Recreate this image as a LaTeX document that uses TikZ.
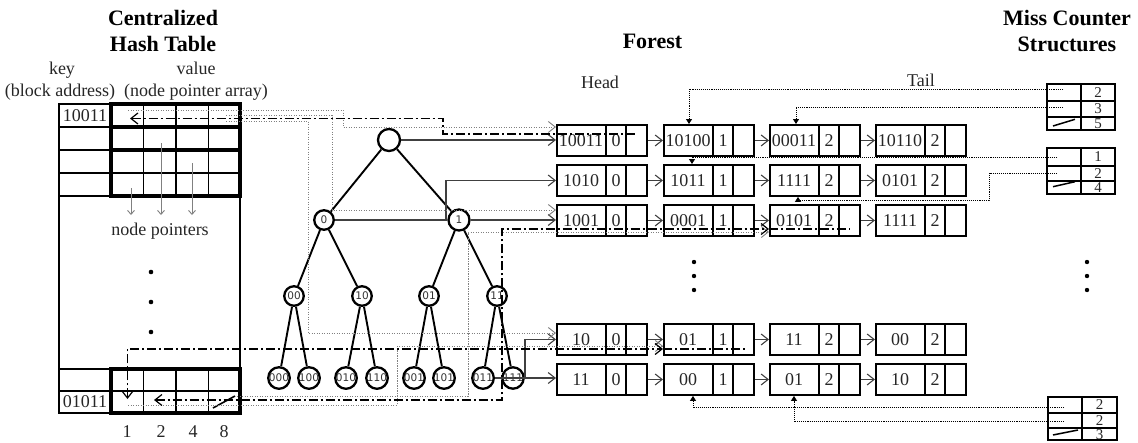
\documentclass[tikz,border=0pt]{standalone}
\usepackage{fontspec}
\setmainfont{Liberation Serif}
\newfontfamily\treefont{DejaVu Sans}
\usetikzlibrary{arrows.meta}
\tikzset{
  barb/.tip={Straight Barb[length=7pt,width=11pt]},
  sbarb/.tip={Straight Barb[length=4pt,width=7pt]},
  tri/.tip={Triangle[length=5pt,width=6pt]},
  every node/.style={font=\fontsize{18}{20}\selectfont, inner sep=0pt, text=black!85},
  title/.style={font=\fontsize{22}{26}\selectfont\bfseries, text=black},
  small/.style={font=\fontsize{15}{16}\selectfont},
  tn/.style={circle, draw, line width=2.3pt, minimum size=19.5pt, inner sep=0pt,
             font=\treefont\fontsize{10.5}{11}\selectfont, text=black!80},
  tedge/.style={line width=1.9pt},
  lb/.style={draw, line width=1.9pt, minimum width=90pt, minimum height=31pt,
             inner sep=0pt, anchor=north west},
  conn/.style={line width=1.1pt, draw=black!75, -barb},
  dotg/.style={line width=0.9pt, draw=black!50, dash pattern=on 1.3pt off 1.2pt},
  dd/.style={line width=1.2pt, dash pattern=on 9pt off 3pt on 2pt off 3pt},
  mdot/.style={line width=0.9pt, dash pattern=on 1pt off 0.9pt, -tri},
  thickb/.style={line width=3.3pt},
  thinb/.style={line width=1.6pt},
}
\newcommand\lbox[5]{%
  \node[lb] (#1) at (#2,#3) {};
  \draw[line width=1.4pt] ([xshift=50pt]#1.north west) -- ([xshift=50pt]#1.south west)
       ([xshift=70pt]#1.north west) -- ([xshift=70pt]#1.south west);
  \node (#1k) at ([xshift=25pt]#1.west) {#4};
  \node (#1n) at ([xshift=60pt]#1.west) {#5};
}
\begin{document}
\begin{tikzpicture}[x=1pt,y=-1pt]
\useasboundingbox (0,0) rectangle (1138,442);

% ---------- titles and labels ----------
\node[title, anchor=base] (tt1) at (163,25) {Centralized};
\node[title, anchor=base] (tt2) at (163,51.7) {Hash Table};
\node[title, anchor=base] (tt3) at (652.5,48) {Forest};
\node[title, anchor=base] (tt4) at (1067,25) {Miss Counter};
\node[title, anchor=base] (tt5) at (1067,51.7) {Structures};
\node[anchor=base] (lkey) at (62,74) {key};
\node[anchor=base] (lval) at (196,74) {value};
\node[anchor=base] (lba) at (60,96.5) {(block address)};
\node[anchor=base] (lnpa) at (196,96.5) {(node pointer array)};
\node[anchor=base] (lhead) at (600,88) {Head};
\node[anchor=base] (ltail) at (921,86) {Tail};

% ---------- hash table ----------
\draw[thinb] (59,104) rectangle (111,196);
\draw[thinb] (59,127) -- (111,127) (59,150) -- (111,150) (59,173) -- (111,173);
\draw[thinb] (59,196) rectangle (240,369);
\draw[line width=1.2pt] (143.5,104) -- (143.5,196) (176,104) -- (176,196) (208.5,104) -- (208.5,196);
\draw[thickb] (111,104) rectangle (240,196);
\draw[thickb] (111,127) -- (240,127) (111,150) -- (240,150);
\draw[line width=2pt] (111,173) -- (240,173);
\draw[thinb] (59,369) rectangle (111,413);
\draw[thinb] (59,391) -- (111,391);
\draw[line width=1.2pt] (143.5,369) -- (143.5,413) (176,369) -- (176,413) (208.5,369) -- (208.5,413)
   (111,391) -- (240,391);
\draw[thickb] (111,369) rectangle (240,413);
\node (k1) at (85,115.5) {10011};
\node (k5) at (85,402) {01011};
\draw[line width=1.6pt] (213,408) -- (235,396);
\draw[black!50, line width=0.9pt, -sbarb] (131,188) -- (131,215);
\draw[black!50, line width=0.9pt, -sbarb] (161,143) -- (161,215);
\draw[black!50, line width=0.9pt, -sbarb] (192,163) -- (192,215);
\node (np) at (160,231) {node pointers};
\fill (151,272) circle (2.3pt) (151,302) circle (2.3pt) (151,332) circle (2.3pt);
\node (c1) at (127,432) {1};
\node (c2) at (161,432) {2};
\node (c4) at (193,432) {4};
\node (c8) at (224,432) {8};

% ---------- tree ----------
\node[tn, minimum size=22pt] (t) at (389,140) {};
\node[tn] (t0) at (324,220) {0};
\node[tn, minimum size=21pt] (t1) at (459,220) {1};
\node[tn] (t00) at (294,296) {00};
\node[tn] (t10) at (362,296) {10};
\node[tn] (t01) at (429,296) {01};
\node[tn] (t11) at (497,296) {11};
\node[tn] (t000) at (279,378) {000};
\node[tn] (t100) at (309,378) {100};
\node[tn] (t010) at (346,378) {010};
\node[tn] (t110) at (377,378) {110};
\node[tn] (t001) at (414,378) {001};
\node[tn] (t101) at (444,378) {101};
\node[tn] (t011) at (483,378) {011};
\node[tn] (t111) at (513,378) {111};
\draw[tedge] (t) -- (t0) (t) -- (t1)
  (t0) -- (t00) (t0) -- (t10) (t1) -- (t01) (t1) -- (t11)
  (t00) -- (t000) (t00) -- (t100) (t10) -- (t010) (t10) -- (t110)
  (t01) -- (t001) (t01) -- (t101) (t11) -- (t011) (t11) -- (t111);

% ---------- forest ----------
\lbox{r1b1}{556}{124}{10011}{0}
\lbox{r1b2}{663}{124}{10100}{1}
\lbox{r1b3}{769}{124}{00011}{2}
\lbox{r1b4}{875}{124}{10110}{2}
\lbox{r2b1}{556}{164}{1010}{0}
\lbox{r2b2}{663}{164}{1011}{1}
\lbox{r2b3}{769}{164}{1111}{2}
\lbox{r2b4}{875}{164}{0101}{2}
\lbox{r3b1}{556}{204}{1001}{0}
\lbox{r3b2}{663}{204}{0001}{1}
\lbox{r3b3}{769}{204}{0101}{2}
\lbox{r3b4}{875}{204}{1111}{2}
\lbox{r4b1}{556}{323}{10}{0}
\lbox{r4b2}{663}{323}{01}{1}
\lbox{r4b3}{769}{323}{11}{2}
\lbox{r4b4}{875}{323}{00}{2}
\lbox{r5b1}{556}{363}{11}{0}
\lbox{r5b2}{663}{363}{00}{1}
\lbox{r5b3}{769}{363}{01}{2}
\lbox{r5b4}{875}{363}{10}{2}
\foreach \r in {1,...,5}{
  \draw[conn] (r\r b1.east) -- (r\r b2.west);
  \draw[conn] (r\r b2.east) -- (r\r b3.west);
  \draw[conn] (r\r b3.east) -- (r\r b4.west);
}
\fill (694,262) circle (2.2pt) (694,276) circle (2.2pt) (694,290) circle (2.2pt);
\fill (1087,262) circle (2.2pt) (1087,276) circle (2.2pt) (1087,290) circle (2.2pt);

% ---------- tree -> forest (solid) ----------
\draw[conn] (t.east) -- (t.east -| r1b1.west);
\coordinate (j0) at (446,220);
\draw[conn] (t0.east) -- (j0) |- (r2b1.west);
\draw[conn] (t1.east) -- (t1.east -| r3b1.west);
\draw[conn] (t011.east) -- (t011.east -| r5b1.west);
\coordinate (j1) at (525,378);
\draw[conn] (j1) |- (r4b1.west);

% ---------- hash -> forest (dotted gray) ----------
\coordinate (hD) at (128,110);
\coordinate (hE) at (226,115);
\coordinate (hF) at (226,121);
\coordinate (hG) at (237,396);
\coordinate (hH) at (128,405);
\draw[dotg, -barb] (hD) -- (343,110) |- ([yshift=-3pt]r1b1.north west);
\draw[dotg, -barb] (hE) -- (332,115) |- ([yshift=-6pt]r3b1.north west);
\draw[dotg, -barb] (hF) -- (308,121) |- ([yshift=-10pt]r4b1.north west);
\draw[dotg, -barb] (hG) -- (468,396) |- ([yshift=-28pt]r3b3.north west);
\draw[dotg, -barb] (hH) -- (397,405) |- ([yshift=-23pt]r4b2.north west);

% ---------- hash <-> forest (dash-dot) ----------
\coordinate (hA) at (130,118.5);
\coordinate (hB) at (154,400);
\coordinate (hC) at (127.5,399);
\draw[dd, barb-] (hA) -- (443,118.5) |- ([xshift=79pt,yshift=-10pt]r1b1.north west);
\draw[dd, barb-barb] (hB) -- (502,400) |- ([yshift=-25pt]r3b3.north west);
\draw[dd] ([yshift=-25pt]r3b3.north west) -- ++(81,0);
\draw[dd, barb-barb] (hC) -- (127.5,349) -- ([yshift=-26pt]r4b2.north west);
\draw[dd] ([yshift=-26pt]r4b2.north west) -- ++(82,0);

% ---------- miss counter structures ----------
\draw[line width=1.5pt] (1047,84) rectangle (1115,130) (1081,84) -- (1081,130)
  (1047,101) -- (1115,101) (1047,117) -- (1115,117);
\draw[line width=1.5pt] (1047,148) rectangle (1115,194) (1081,148) -- (1081,194)
  (1047,166) -- (1115,166) (1047,181) -- (1115,181);
\draw[line width=1.5pt] (1048,397) rectangle (1117,440) (1082,397) -- (1082,440)
  (1048,413) -- (1117,413) (1048,428) -- (1117,428);
\node[small] (m11) at (1098,92.5) {2};
\node[small] (m12) at (1098,109) {3};
\node[small] (m13) at (1098,124) {5};
\node[small] (m21) at (1098,157) {1};
\node[small] (m22) at (1098,173.5) {2};
\node[small] (m23) at (1098,188) {4};
\node[small] (m31) at (1099.5,405) {2};
\node[small] (m32) at (1099.5,420.5) {2};
\node[small] (m33) at (1099.5,434.5) {3};
\draw[line width=1.5pt] (1053,126) -- (1075,119.3);
\draw[line width=1.5pt] (1053,186.7) -- (1075,181.7);
\draw[line width=1.5pt] (1053,435) -- (1078,430);
\coordinate (mc11) at (1063,89);
\coordinate (mc12) at (1063,107.5);
\coordinate (mc21) at (1057,157);
\coordinate (mc22) at (1057,173);
\coordinate (mc31) at (1064,407);
\coordinate (mc32) at (1064,421.5);
\draw[mdot] (mc11) -| ([xshift=26pt]r1b2.north west);
\draw[mdot] (mc12) -| ([xshift=27pt]r1b3.north west);
\draw[mdot] (mc21) -| ([xshift=29pt]r2b2.north west);
\draw[mdot] (mc22) -- (989,173) -- (989,200) -| ([xshift=29pt]r2b3.south west);
\draw[mdot] (mc31) -| ([xshift=30pt]r5b2.south west);
\draw[mdot] (mc32) -| ([xshift=25pt]r5b3.south west);
\end{tikzpicture}
\end{document}
